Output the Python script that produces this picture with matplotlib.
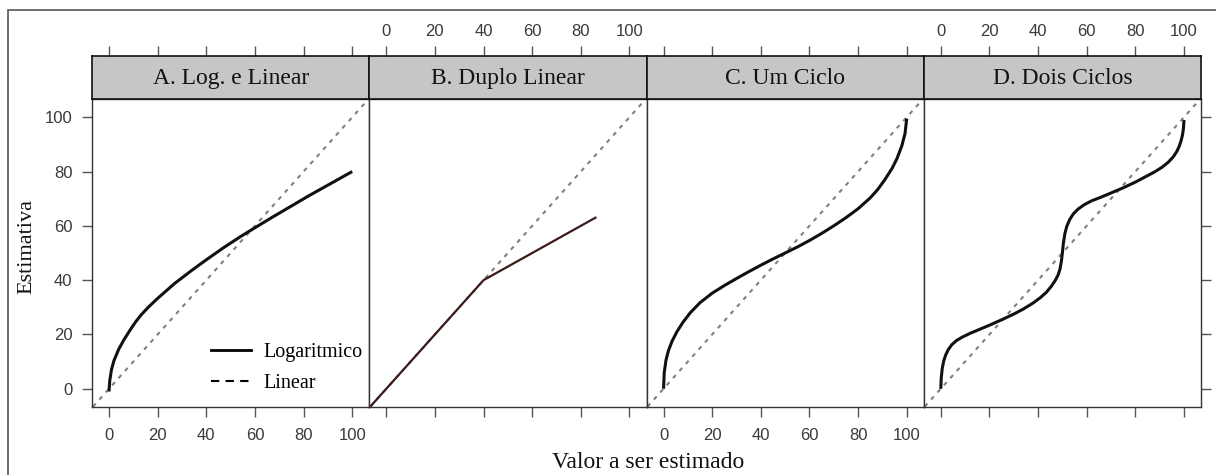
import matplotlib
matplotlib.use("Agg")
import matplotlib.pyplot as plt
from matplotlib.lines import Line2D

# titulos dos paineis
titles = ["A. Log. e Linear", "B. Duplo Linear", "C. Um Ciclo", "D. Dois Ciclos"]
ticks = [0, 20, 40, 60, 80, 100]

# A - logaritmico
log_x = [0, 0.3, 1, 2, 4, 6.3, 9, 11, 13, 16, 20, 27, 34, 40, 47, 54, 60, 67, 75, 82, 88, 94, 100]
log_y = [-1, 3, 7, 10.3, 14.6, 18.3, 22.1, 24.7, 27, 29.9, 33.3, 38.8, 43.6, 47.5, 51.9, 56, 59.3, 63.1,
         67.3, 71, 74, 77, 80]

# B - duplo linear
dl_x = [-10, 40, 86]
dl_y = [-10, 40, 63]

# C - um ciclo
c1_x = [0, 0.3, 1, 2, 3.5, 5.5, 8, 11, 15, 20, 25, 30, 35, 40, 45, 50,
        55, 60, 65, 70, 75, 80, 85, 88, 91, 94, 96, 98, 99.3, 100]
c1_y = [0, 6, 10.5, 14, 17.5, 21, 24.5, 28, 31.7, 35.2, 38, 40.6, 43.1, 45.5, 47.8, 50,
        52.2, 54.6, 57.2, 60, 63, 66.3, 70.3, 73.3, 77, 81.2, 84.8, 89.5, 94, 99.5]

# D - dois ciclos
c2_x = [0, 0.2, 0.6, 1.2, 2, 3, 4.5, 6.5, 9, 12, 16, 20, 25, 30, 34, 38, 41, 43.5, 45.5, 47, 48.2, 49, 49.6,
        50, 50.4, 51, 51.8, 53, 54.5, 56.5, 59, 62, 66, 70, 75, 80, 84, 88, 91, 93.5, 95.5, 97, 98, 98.8,
        99.4, 99.8, 100]
c2_y = [0, 4, 7.5, 10.2, 12.4, 14.3, 16.2, 17.8, 19.1, 20.4, 21.9, 23.4, 25.4, 27.5, 29.4, 31.6, 33.6, 35.6,
        37.8, 39.8, 41.8, 44, 47,
        50, 53.5, 57, 59.8, 62.3, 64.4, 66.2, 67.8, 69.2, 70.6, 72.1, 74, 76.1, 78, 79.9, 81.6, 83.4, 85.3,
        87.3, 89.2, 91.3, 93.5, 96, 99]

curves = [(log_x, log_y), (dl_x, dl_y), (c1_x, c1_y), (c2_x, c2_y)]

serif = ["Liberation Serif", "DejaVu Serif"]
plt.rcParams["font.family"] = ["Liberation Sans", "DejaVu Sans"]

W, H = 1216, 475
fig = plt.figure(figsize=(W / 100, H / 100), dpi=100)
left, right = 92, 1201
pw = (right - left) / 4
p_top, p_bot, s_top = 99.3, 406.7, 56

tick_kw = dict(direction="out", length=7, width=1, color="#555555",
               labelsize=12, labelcolor="#3a3a3a")

for i in range(4):
    x0 = (left + i * pw) / W
    ax = fig.add_axes([x0, (H - p_bot) / H, pw / W, (p_bot - p_top) / H])
    st = fig.add_axes([x0, (H - p_top) / H, pw / W, (p_top - s_top) / H])

    ax.set_xlim(-7, 107)
    ax.set_ylim(-6.6, 106.6)
    ax.axline((0, 0), slope=1, color="#808080", lw=1.5, ls=(0, (2, 2.6)))
    cx, cy = curves[i]
    if i == 1:
        ax.plot(cx, cy, color="#3d1a1a", lw=1.6)
    else:
        ax.plot(cx, cy, color="#111111", lw=2.2, solid_capstyle="butt")

    for sp in ax.spines.values():
        sp.set_color("#333333")
        sp.set_linewidth(1)

    ax.set_xticks(ticks)
    ax.set_yticks(ticks)
    ax.tick_params(**tick_kw)
    ax.tick_params(axis="x", pad=8)
    if i % 2 == 1:
        ax.tick_params(axis="x", labelbottom=False)
    if i == 0:
        ax.tick_params(axis="y", pad=7)
    elif i == 3:
        ax.yaxis.tick_right()
        ax.tick_params(axis="y", labelright=False)
    else:
        ax.tick_params(axis="y", left=False, labelleft=False)

    # faixa com o titulo
    st.set_facecolor("#c6c6c6")
    st.set_xlim(-7, 107)
    st.set_ylim(0, 1)
    st.set_yticks([])
    st.xaxis.tick_top()
    st.set_xticks(ticks)
    st.tick_params(axis="x", **tick_kw)
    st.tick_params(axis="x", pad=5)
    if i % 2 == 0:
        st.tick_params(axis="x", labeltop=False)
    for sp in st.spines.values():
        sp.set_color("#111111")
        sp.set_linewidth(1.2)
    st.text(0.5, 0.47, titles[i], transform=st.transAxes, ha="center", va="center",
            fontsize=17, family=serif, color="#111111")

    if i == 0:
        handles = [Line2D([], [], color="black", lw=2),
                   Line2D([], [], color="black", lw=1.5, ls=(0, (4, 3)))]
        ax.legend(handles, ["Logaritmico", "Linear"], loc="lower right",
                  bbox_to_anchor=(1.04, -0.015), frameon=False, handlelength=2.0,
                  handletextpad=0.6, labelspacing=0.6,
                  prop={"family": serif, "size": 14.5})

fig.text(27 / W, 1 - 247 / H, "Estimativa", rotation=90, ha="center", va="center",
         fontsize=16, family=serif, color="#111111")
fig.text(648 / W, 1 - 462 / H, "Valor a ser estimado", ha="center", va="center",
         fontsize=17, family=serif, color="#111111")

# moldura externa
fig.add_artist(plt.Rectangle((8 / W, -0.2), 1.2, (H - 10) / H + 0.2, fill=False,
                             edgecolor="#555555", lw=1.2, transform=fig.transFigure))

fig.savefig("out.png", dpi=100)
